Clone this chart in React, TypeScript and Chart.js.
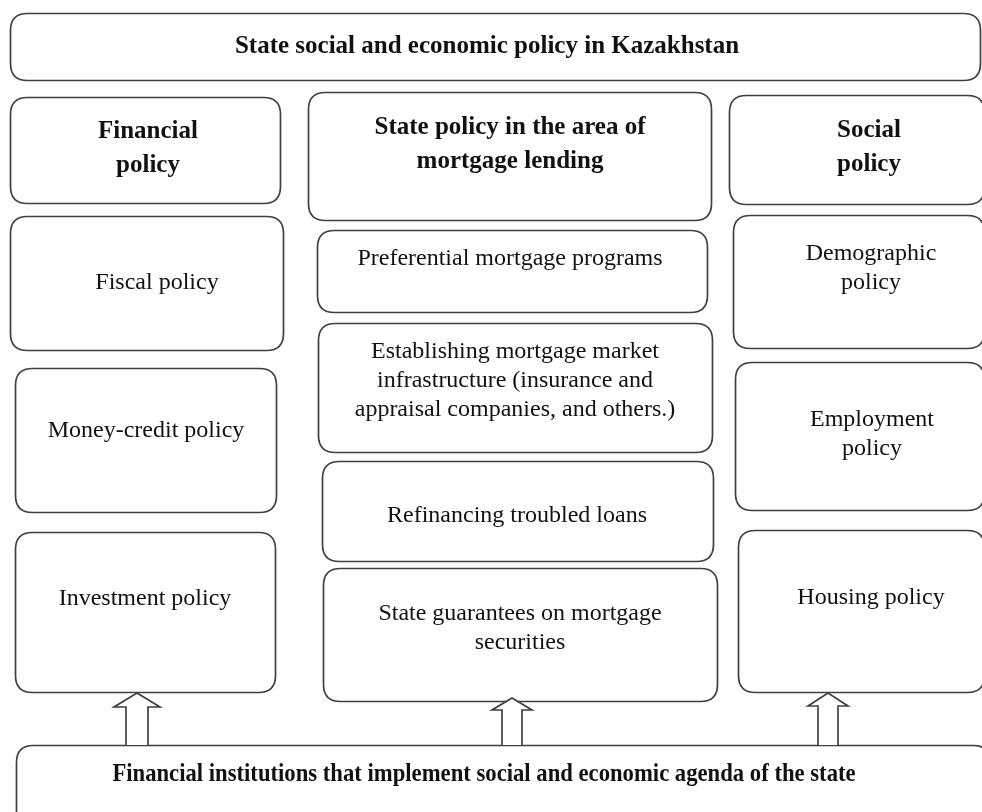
import React, { useEffect, useRef } from "react";
import { Chart, registerables } from "chart.js";

Chart.register(...registerables);

// Diagram boxes: label lines, bold flag, extents in diagram units (0..982 x 0..812)
const boxLabels: string[][] = [
  ["State social and economic policy in Kazakhstan"],
  ["Financial", "policy"],
  ["Fiscal policy"],
  ["Money-credit policy"],
  ["Investment policy"],
  ["State policy in the area of", "mortgage lending"],
  ["Preferential mortgage programs"],
  ["Establishing mortgage market", "infrastructure (insurance and", "appraisal companies, and others.)"],
  ["Refinancing troubled loans"],
  ["State guarantees on mortgage", "securities"],
  ["Social", "policy"],
  ["Demographic", "policy"],
  ["Employment", "policy"],
  ["Housing policy"],
  ["Financial institutions that implement social and economic agenda of the state"],
];
const boxBold: boolean[] = [true, true, false, false, false, true, false, false, false, false, true, false, false, false, true];
const boxCondensed: number[] = [1, 1, 1, 1, 1, 1, 1, 1, 1, 1, 1, 1, 1, 1, 0.907];
const boxX0: number[] = [10, 10, 10, 15, 15, 308, 317, 318, 322, 323, 729, 733, 735, 738, 16];
const boxX1: number[] = [980, 280, 283, 276, 275, 711, 707, 712, 713, 717, 984, 984, 984, 984, 990];
const boxY0: number[] = [13, 97, 216, 368, 532, 92, 230, 323, 461, 568, 95, 215, 362, 530, 745];
const boxY1: number[] = [80, 203, 350, 512, 692, 220, 312, 452, 561, 701, 204, 348, 510, 692, 830];
// first text line center y and text center x
const textCX: number[] = [487, 148, 157, 146, 145, 510, 510, 515, 517, 520, 869, 871, 872, 871, 484];
const textY: number[] = [47, 132, 283, 431, 599, 128, 259, 352, 516, 614, 131, 254, 420, 598, 775];

// Up arrows: center x, tip y, head base y, shaft bottom y
const arrowCX: number[] = [137, 512, 828];
const arrowTip: number[] = [693, 698, 693];
const arrowHeadBase: number[] = [707, 710, 706];
const arrowBottom: number[] = [745, 745, 745];

function roundRect(ctx: CanvasRenderingContext2D, x0: number, y0: number, x1: number, y1: number, r: number) {
  ctx.beginPath();
  ctx.moveTo(x0 + r, y0);
  ctx.lineTo(x1 - r, y0);
  ctx.quadraticCurveTo(x1, y0, x1, y0 + r);
  ctx.lineTo(x1, y1 - r);
  ctx.quadraticCurveTo(x1, y1, x1 - r, y1);
  ctx.lineTo(x0 + r, y1);
  ctx.quadraticCurveTo(x0, y1, x0, y1 - r);
  ctx.lineTo(x0, y0 + r);
  ctx.quadraticCurveTo(x0, y0, x0 + r, y0);
  ctx.closePath();
}

const diagramPlugin = {
  id: "diagram",
  afterDraw(chart: any) {
    const ctx: CanvasRenderingContext2D = chart.ctx;
    const xs = chart.scales.x;
    const ys = chart.scales.y;
    const px = (v: number) => xs.getPixelForValue(v);
    const py = (v: number) => ys.getPixelForValue(v);
    ctx.save();
    ctx.fillStyle = "#ffffff";
    ctx.fillRect(0, 0, chart.width, chart.height);
    ctx.lineWidth = 1.7;
    ctx.strokeStyle = "#404040";
    for (let i = 0; i < boxLabels.length; i++) {
      roundRect(ctx, px(boxX0[i]) + 0.5, py(boxY0[i]) + 0.5, px(boxX1[i]) + 0.5, py(boxY1[i]) + 0.5, 17);
      ctx.fillStyle = "#ffffff";
      ctx.fill();
      ctx.stroke();
      ctx.fillStyle = "#111111";
      ctx.textAlign = "center";
      ctx.textBaseline = "middle";
      const bold = boxBold[i];
      const size = bold ? 25 : 24;
      ctx.font = `${bold ? "bold " : ""}${size}px "Liberation Serif", "Times New Roman", serif`;
      const lh = bold ? 34 : 29;
      const sx = boxCondensed[i];
      boxLabels[i].forEach((line, k) => {
        ctx.save();
        ctx.translate(px(textCX[i]), py(textY[i] + k * lh));
        ctx.scale(sx, 1);
        ctx.fillText(line, 0, 0);
        ctx.restore();
      });
    }
    // arrows
    for (let i = 0; i < arrowCX.length; i++) {
      const cx = px(arrowCX[i]);
      const shaftHalf = i === 0 ? 11 : 10;
      const headHalf = i === 0 ? 23 : 20;
      ctx.beginPath();
      ctx.moveTo(cx - shaftHalf, py(arrowBottom[i]));
      ctx.lineTo(cx - shaftHalf, py(arrowHeadBase[i]));
      ctx.lineTo(cx - headHalf, py(arrowHeadBase[i]));
      ctx.lineTo(cx, py(arrowTip[i]));
      ctx.lineTo(cx + headHalf, py(arrowHeadBase[i]));
      ctx.lineTo(cx + shaftHalf, py(arrowHeadBase[i]));
      ctx.lineTo(cx + shaftHalf, py(arrowBottom[i]));
      ctx.fillStyle = "#ffffff";
      ctx.fill();
      ctx.stroke();
    }
    ctx.restore();
  },
};

export default function App() {
  const ref = useRef<HTMLCanvasElement | null>(null);
  useEffect(() => {
    document.body.style.margin = "0";
    if (!ref.current) return;
    const chart = new Chart(ref.current, {
      type: "scatter",
      data: {
        datasets: [
          {
            data: boxLabels.map((_, i) => ({ x: textCX[i], y: textY[i] })),
            pointRadius: 0,
            showLine: false,
          },
        ],
      },
      options: {
        animation: false,
        responsive: true,
        maintainAspectRatio: false,
        layout: { padding: 0 },
        plugins: { legend: { display: false }, tooltip: { enabled: false } },
        events: [],
        scales: {
          x: { type: "linear", min: 0, max: 982, display: false },
          y: { type: "linear", min: 0, max: 812, reverse: true, display: false },
        },
      },
      plugins: [diagramPlugin],
    });
    return () => chart.destroy();
  }, []);
  return (
    <div style={{ width: 982, height: 812, position: "relative", background: "#fff" }}>
      <canvas ref={ref} />
    </div>
  );
}
